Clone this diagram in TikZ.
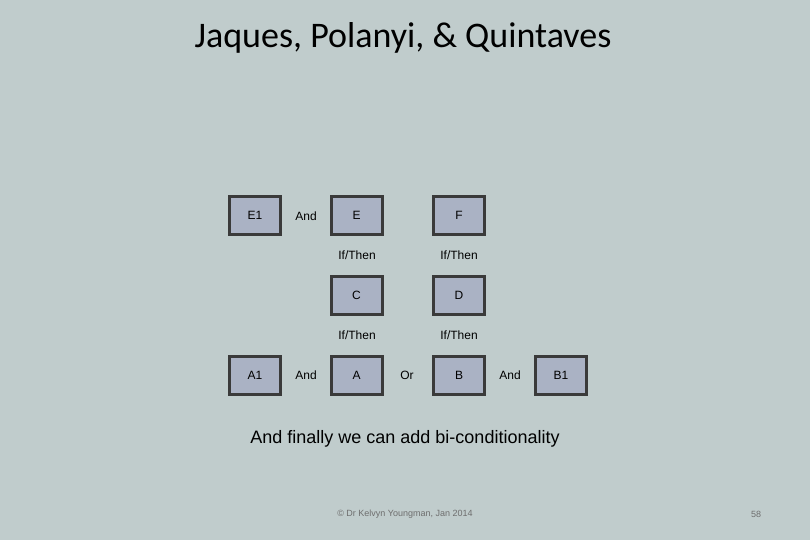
\documentclass[tikz,border=0pt]{standalone}
\usepackage{fontspec}
\setmainfont{Liberation Sans}
\newfontfamily\titlefont{Carlito}
\definecolor{bg}{RGB}{192,204,204}
\definecolor{boxfill}{RGB}{170,178,196}
\definecolor{boxline}{RGB}{58,58,58}
\definecolor{foot}{RGB}{110,110,110}
\begin{document}
\begin{tikzpicture}[x=1pt,y=-1pt,
  vbox/.style={draw=boxline,line width=3pt,fill=boxfill,minimum width=51pt,minimum height=38pt,inner sep=0pt,font=\fontsize{12}{14}\selectfont},
  lbl/.style={font=\fontsize{12}{14}\selectfont,inner sep=0pt}]
\fill[bg] (0,0) rectangle (810,540);
\useasboundingbox (0,0) rectangle (810,540);
\node[font=\titlefont\fontsize{36}{42}\selectfont] (title) at (403,38) {Jaques, Polanyi, \& Quintaves};
\node[vbox] (E1) at (255,215.5) {E1};
\node[vbox] (E) at (356.5,215.5) {E};
\node[vbox] (F) at (459,215.5) {F};
\node[vbox] (C) at (356.5,295.5) {C};
\node[vbox] (D) at (459,295.5) {D};
\node[vbox] (A1) at (255,375) {A1};
\node[vbox] (A) at (356.5,375) {A};
\node[vbox] (B) at (459,375) {B};
\node[vbox] (B1) at (561,375) {B1};
\node[lbl] (and1) at (306,216) {And};
\node[lbl] (it1) at (357,255.5) {If/Then};
\node[lbl] (it2) at (459,255.5) {If/Then};
\node[lbl] (it3) at (357,335.5) {If/Then};
\node[lbl] (it4) at (459,335.5) {If/Then};
\node[lbl] (and2) at (306,375) {And};
\node[lbl] (or) at (407,375) {Or};
\node[lbl] (and3) at (510,375) {And};
\node[font=\fontsize{18}{22}\selectfont] (sub) at (405,438.5) {And finally we can add bi-conditionality};
\node[font=\fontsize{9}{11}\selectfont,text=foot] (foot) at (405,514.5) {© Dr Kelvyn Youngman, Jan 2014};
\node[font=\fontsize{9}{11}\selectfont,text=foot] (page) at (756,514.5) {58};
\end{tikzpicture}
\end{document}
